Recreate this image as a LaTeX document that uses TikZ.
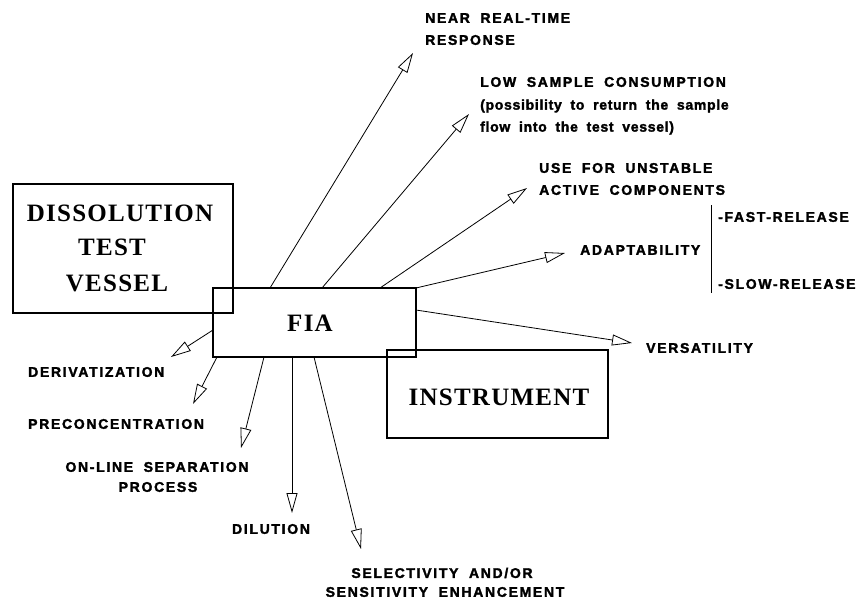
\documentclass[tikz,border=0pt]{standalone}
\usepackage{fontspec}
\usetikzlibrary{arrows.meta}
\newfontfamily\labfont{Liberation Sans Bold}[LetterSpace=12,WordSpace=1.9,FakeBold=2]
\newfontfamily\lowfont{Liberation Sans Bold}[LetterSpace=5,WordSpace=1.9,FakeBold=2]
\newfontfamily\boxfont{Liberation Serif}[LetterSpace=5]
\begin{document}
\begin{tikzpicture}[x=1pt,y=-1pt,
  box/.style={draw,line width=1.1pt,inner sep=0pt},
  boxtext/.style={font=\boxfont\bfseries\fontsize{25}{30}\selectfont,inner sep=0pt},
  lab/.style={font=\labfont\fontsize{14}{16}\selectfont,inner sep=0pt},
  lowlab/.style={font=\lowfont\fontsize{14}{16}\selectfont,inner sep=0pt},
  arr/.style={line width=0.8pt,-{Triangle[open,length=20pt,width=11pt,line width=0.8pt]}}]
\useasboundingbox (0,0) rectangle (867,600);
% boxes
\node[box,minimum width=220pt,minimum height=129pt] (dtv) at (123,248.5) {};
\node[box,minimum width=203pt,minimum height=69pt] (fia) at (314.5,322.5) {};
\node[box,minimum width=221pt,minimum height=88pt] (ins) at (497.5,394) {};
\node[boxtext] (t-diss) at (120,213) {DISSOLUTION};
\node[boxtext] (t-test) at (112,247) {TEST};
\node[boxtext] (t-vess) at (117,283) {VESSEL};
\node[boxtext] (t-fia) at (310,323) {FIA};
\node[boxtext] (t-ins) at (499,397) {INSTRUMENT};
% start and tip points
\coordinate (s1) at (270,288); \coordinate (e1) at (413,53);
\coordinate (s2) at (322,288); \coordinate (e2) at (469,114);
\coordinate (s3) at (380,288); \coordinate (e3) at (527,188);
\coordinate (s4) at (416,288); \coordinate (e4) at (565,253);
\coordinate (s5) at (416,310); \coordinate (e5) at (632,343);
\coordinate (s6) at (213,330); \coordinate (e6) at (171,357);
\coordinate (s7) at (217,357); \coordinate (e7) at (193,404);
\coordinate (s8) at (264,357); \coordinate (e8) at (241,448);
\coordinate (s9) at (292,357); \coordinate (e9) at (292,513);
\coordinate (s10) at (314,357); \coordinate (e10) at (361,549);
\foreach \i in {1,...,10} {\draw[arr] (s\i) -- (e\i);}
% labels
\node[lab,anchor=west] (l1a) at (425,18) {NEAR REAL-TIME};
\node[lab,anchor=west] (l1b) at (425,40) {RESPONSE};
\node[lab,anchor=west] (l2a) at (480,82) {LOW SAMPLE CONSUMPTION};
\node[lowlab,anchor=west] (l2b) at (480,106) {(possibility to return the sample};
\node[lowlab,anchor=west] (l2c) at (480,128) {flow into the test vessel)};
\node[lab,anchor=west] (l3a) at (539,168) {USE FOR UNSTABLE};
\node[lab,anchor=west] (l3b) at (539,190) {ACTIVE COMPONENTS};
\node[lab,anchor=west] (l4) at (580,250) {ADAPTABILITY};
\node[lab,anchor=west] (l4a) at (718,217) {-FAST-RELEASE};
\node[lab,anchor=west] (l4b) at (718,284) {-SLOW-RELEASE};
\coordinate (va) at (711,205); \coordinate (vb) at (711,293);
\draw[line width=0.8pt] (va) -- (vb);
\node[lab,anchor=west] (l5) at (646,348) {VERSATILITY};
\node[lab,anchor=west] (l6) at (28,372) {DERIVATIZATION};
\node[lab,anchor=west] (l7) at (28,424) {PRECONCENTRATION};
\node[lab] (l8a) at (157,467) {ON-LINE SEPARATION};
\node[lab] (l8b) at (158,487) {PROCESS};
\node[lab] (l9) at (271,529) {DILUTION};
\node[lab] (l10a) at (442,573) {SELECTIVITY AND/OR};
\node[lab] (l10b) at (445,592) {SENSITIVITY ENHANCEMENT};
\end{tikzpicture}
\end{document}
